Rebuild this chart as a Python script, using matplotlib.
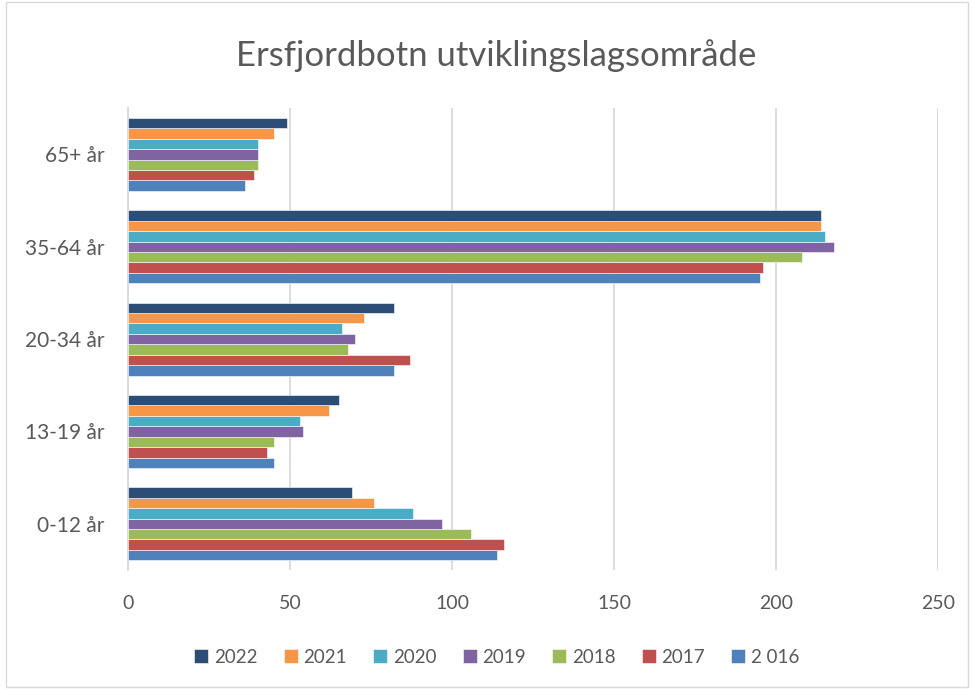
import numpy as np
import matplotlib.pyplot as plt
from matplotlib.patches import Rectangle

plt.rcParams['font.family'] = ['Lato', 'DejaVu Sans']

categories = ["0-12 år", "13-19 år", "20-34 år", "35-64 år", "65+ år"]
years = ["2 016", "2017", "2018", "2019", "2020", "2021", "2022"]
colors = ["#4F81BD", "#C0504D", "#9BBB59", "#8064A2", "#4BACC6", "#F79646", "#2C4D75"]

# values per year, same order as categories
v2016 = [114, 45, 82, 195, 36]
v2017 = [116, 43, 87, 196, 39]
v2018 = [106, 45, 68, 208, 40]
v2019 = [97, 54, 70, 218, 40]
v2020 = [88, 53, 66, 215, 40]
v2021 = [76, 62, 73, 214, 45]
v2022 = [69, 65, 82, 214, 49]
series = [v2016, v2017, v2018, v2019, v2020, v2021, v2022]

fig = plt.figure(figsize=(9.74, 6.89), dpi=100)
ax = fig.add_axes([0.1314, 0.1727, 0.8316, 0.6703])

y = np.arange(len(categories))
h = 0.113
for i, (vals, lab, c) in enumerate(zip(series, years, colors)):
    off = (i - 3) * h
    ax.barh(y + off, vals, height=h, color=c, label=lab,
            edgecolor="white", linewidth=0.4, zorder=3)

ax.set_xlim(0, 250)
ax.set_ylim(-0.5, 4.5)
ax.set_xticks([0, 50, 100, 150, 200, 250])
ax.set_yticks(y)
ax.set_yticklabels(categories)
ax.tick_params(axis="both", length=0, colors="#595959")
ax.tick_params(axis="x", pad=18, labelsize=14)
ax.tick_params(axis="y", pad=17, labelsize=15)
ax.grid(axis="x", color="#D9D9D9", linewidth=1.3, zorder=0)
for s in ["top", "right", "bottom"]:
    ax.spines[s].set_visible(False)
ax.spines["left"].set_color("#D9D9D9")
ax.spines["left"].set_linewidth(1.3)

fig.text(0.509, 0.92, "Ersfjordbotn utviklingslagsområde", ha="center", va="center",
         fontsize=25, color="#595959")

handles, labels = ax.get_legend_handles_labels()
fig.legend(handles[::-1], labels[::-1], loc="center", bbox_to_anchor=(0.51, 0.046),
           ncol=7, frameon=False, fontsize=13.5, labelcolor="#595959",
           handlelength=0.75, handleheight=0.75, handletextpad=0.3, columnspacing=1.4)

fig.patches.append(Rectangle((0.006, 0.003), 0.988, 0.994, transform=fig.transFigure,
                             fill=False, edgecolor="#D9D9D9", linewidth=1))

fig.savefig("out.png", dpi=100)
